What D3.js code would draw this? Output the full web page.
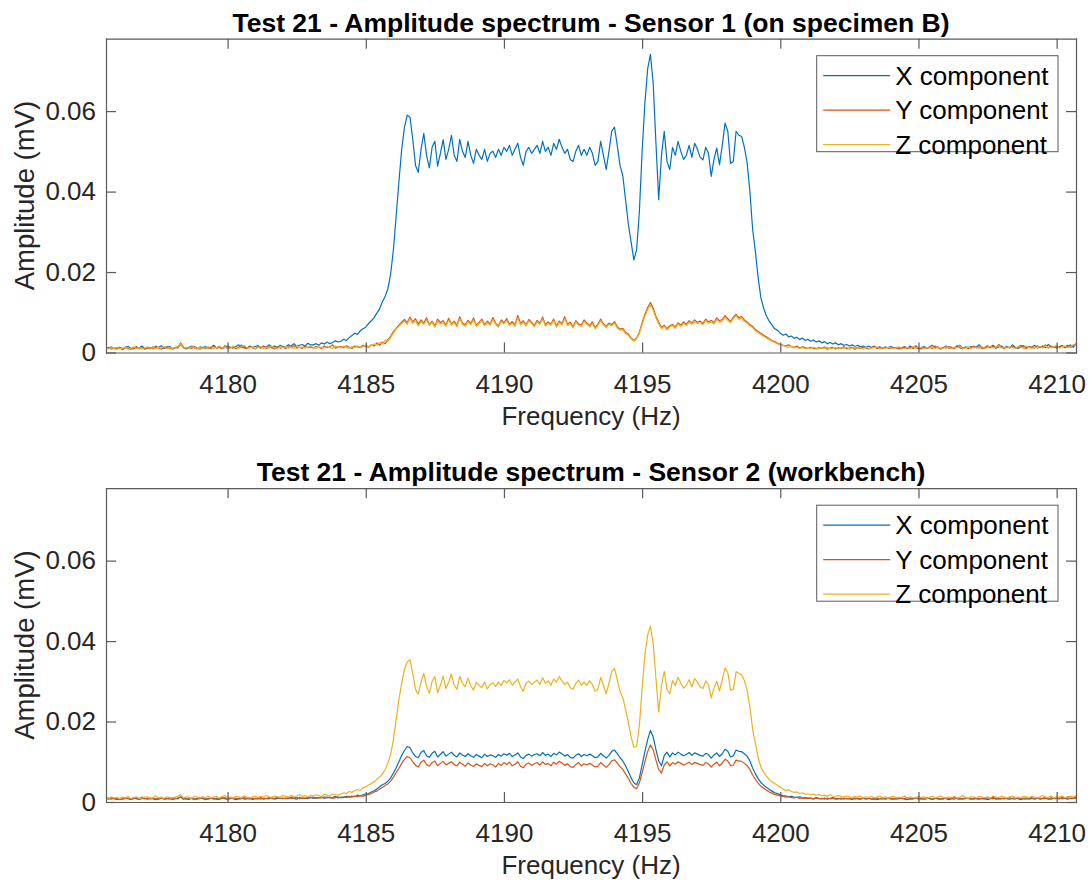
<!DOCTYPE html>
<html>
<head>
<meta charset="utf-8">
<script src="https://cdn.jsdelivr.net/npm/d3@7"></script>
<style>
  html, body { margin: 0; padding: 0; background: #fff; }
  svg { display: block; }
</style>
</head>
<body>
<svg id="fig" width="1090" height="882"></svg>
<script>
// Spectrum bins: first bin frequency and bin spacing (Hz)
const freqStart = 4175.6;
const freqStep = 0.1;

// Amplitudes in microvolts, one value per bin
const sensor1X_uV = [
  1.2, 1.0, 1.4, 0.9, 1.1,
  1.3, 0.8, 1.2, 1.5, 1.0, 0.9, 1.3, 1.1, 1.6, 1.0,
  1.2, 0.9, 1.4, 1.1, 1.3, 1.7, 1.0, 1.2, 1.5, 0.9,
  1.1, 1.4, 2.0, 1.2, 1.0, 1.3, 1.6, 1.1, 0.9, 1.4,
  1.2, 1.5, 1.0, 1.3, 1.8, 1.1, 1.4, 1.0, 1.2, 1.6,
  1.3, 1.1, 1.5, 1.9, 1.2, 1.4, 1.0, 1.6, 1.3, 1.5,
  1.7, 1.2, 1.5, 1.3, 1.9, 1.4, 1.6, 1.2, 1.8, 1.5,
  1.4, 1.9, 1.6, 2.2, 1.5, 1.8, 2.0, 1.6, 2.3, 1.9,
  1.9, 2.2, 1.8, 2.4, 2.1, 2.6, 2.2, 2.5, 2.9, 2.6,
  2.8, 3.3, 3.0, 3.7, 4.2, 4.8, 4.5, 5.4, 5.9, 6.3,
  7.2, 7.9, 8.6, 9.8, 10.8, 12.6, 13.9, 15.8, 19.5, 25.5,
  34.0, 42.5, 50.5, 56.0, 59.0, 58.5, 53.0, 46.5, 44.8, 50.5,
  54.5, 49.0, 45.9, 51.0, 52.5, 46.3, 49.5, 52.9, 48.0, 50.5,
  54.0, 49.0, 47.5, 53.0, 50.0, 48.5, 52.5, 49.0, 47.0, 50.5,
  49.0, 48.0, 50.5, 47.5, 49.5, 50.0, 48.5, 50.5, 49.0, 51.0,
  50.0, 51.5, 49.0, 50.5, 52.0, 48.5, 46.5, 50.0, 51.0, 49.5,
  50.5, 51.5, 49.5, 52.5, 50.0, 51.0, 49.0, 52.0, 50.5, 53.0,
  51.0, 49.5, 50.5, 48.0, 47.5, 50.0, 51.5, 49.0, 50.5, 49.0,
  51.0, 49.5, 46.5, 47.5, 52.5, 49.0, 45.5, 50.0, 55.0, 56.0,
  51.5, 46.5, 44.0, 38.0, 32.0, 27.5, 23.0, 25.5, 35.0, 50.0,
  62.0, 70.5, 74.1, 67.0, 52.0, 38.0, 49.0, 55.0, 47.5, 45.5,
  51.0, 49.0, 52.5, 50.0, 48.0, 49.0, 51.5, 48.5, 52.0, 50.5,
  48.5, 47.9, 51.0, 49.5, 43.8, 48.0, 50.8, 46.7, 51.5, 57.0,
  55.0, 47.0, 47.5, 55.0, 54.0, 53.7, 51.0, 47.1, 40.0, 30.5,
  25.0, 18.5, 13.5, 11.0, 9.0, 7.8, 6.8, 5.9, 5.5, 4.8,
  4.3, 4.6, 3.9, 4.1, 3.5, 3.8, 3.2, 3.6, 3.0, 3.3,
  2.8, 3.1, 2.6, 2.9, 2.4, 2.7, 2.2, 2.5, 2.1, 2.4,
  1.9, 2.2, 1.8, 2.0, 1.6, 1.9, 1.5, 1.8, 1.4, 1.6,
  1.3, 1.6, 1.2, 1.5, 1.1, 1.4, 1.0, 1.3, 1.2, 1.5,
  1.1, 1.3, 0.9, 1.2, 1.4, 1.0, 1.6, 1.1, 1.3, 0.9,
  1.2, 1.5, 1.0, 1.3, 1.8, 1.1, 1.4, 0.9, 1.2, 1.6,
  1.0, 1.3, 1.1, 1.7, 1.2, 0.9, 1.4, 1.1, 1.5, 1.2,
  1.4, 1.9, 1.2, 1.0, 1.5, 1.3, 1.8, 1.1, 1.4, 1.6,
  1.2, 1.5, 1.1, 1.9, 1.3, 1.0, 1.4, 1.7, 1.2, 1.5,
  1.3, 1.8, 1.1, 1.4, 1.6, 1.2, 2.0, 1.3, 1.5, 1.1,
  1.4, 1.7, 1.2, 1.5, 1.9, 1.3, 2.2
];

const sensor1Y_uV = [
  1.0, 1.3, 0.8, 1.1, 0.9,
  1.2, 0.7, 1.4, 1.0, 0.8, 1.1, 1.5, 0.9, 1.2, 0.8,
  1.0, 1.3, 0.9, 1.6, 1.1, 0.8, 1.2, 1.4, 1.0, 0.9,
  1.3, 1.1, 2.4, 1.4, 0.9, 1.2, 1.0, 1.5, 1.1, 0.8,
  1.2, 1.0, 1.4, 0.9, 1.6, 1.1, 1.3, 0.9, 1.7, 1.0,
  1.2, 1.4, 0.9, 1.3, 1.9, 1.1, 1.0, 1.5, 1.2, 0.9,
  1.3, 1.1, 1.6, 1.0, 1.4, 1.2, 0.9, 1.5, 1.1, 1.3,
  1.0, 1.4, 1.2, 1.7, 1.1, 1.3, 1.0, 1.6, 1.2, 1.4,
  1.1, 1.5, 1.3, 1.0, 1.6, 1.2, 1.4, 1.9, 1.1, 1.3,
  1.5, 1.2, 1.7, 1.3, 1.0, 1.6, 1.4, 1.2, 1.8, 1.5,
  1.3, 1.9, 1.6, 2.4, 1.8, 2.6, 2.2, 3.2, 4.0, 5.2,
  6.0, 6.8, 7.6, 8.2, 7.4, 8.8, 7.6, 8.4, 7.0, 8.1,
  7.3, 8.6, 7.0, 7.8, 6.6, 8.3, 7.4, 7.9, 6.8, 8.5,
  7.1, 7.8, 6.7, 8.9, 7.3, 6.9, 8.0, 7.2, 8.6, 6.8,
  7.5, 8.3, 6.9, 7.8, 7.1, 8.7, 7.3, 6.6, 8.1, 7.4,
  8.4, 7.0, 7.7, 6.8, 9.2, 7.2, 7.9, 6.9, 8.2, 7.5,
  6.7, 8.0, 7.3, 8.8, 6.9, 7.6, 7.1, 8.3, 6.6, 7.8,
  7.2, 8.9, 7.0, 7.5, 6.4, 7.9, 7.1, 6.8, 8.1, 7.3,
  6.7, 7.6, 6.2, 7.0, 8.3, 7.1, 6.5, 7.3, 6.9, 7.7,
  6.4, 5.8, 6.0, 5.0, 4.6, 3.6, 3.0, 3.6, 5.0, 7.4,
  9.5, 11.2, 12.4, 11.0, 9.0, 7.5, 6.2, 6.8, 5.9, 6.6,
  7.0, 6.3, 7.4, 6.8, 7.6, 7.0, 7.9, 7.3, 8.1, 7.5,
  7.8, 7.2, 8.3, 7.6, 8.0, 7.4, 8.6, 7.9, 8.2, 9.1,
  8.4, 7.7, 8.8, 9.5, 8.6, 9.0, 8.1, 7.6, 6.9, 6.5,
  5.7, 5.2, 4.8, 4.3, 3.9, 3.4, 3.0, 2.7, 2.3, 2.0,
  1.8, 1.6, 1.9, 1.4, 1.3, 1.6, 1.1, 1.4, 1.2, 1.0,
  1.3, 1.1, 0.9, 1.2, 1.0, 1.4, 0.8, 1.1, 1.3, 0.9,
  1.2, 1.0, 1.5, 0.9, 1.1, 1.3, 0.8, 1.2, 1.0, 1.4,
  1.1, 0.9, 1.3, 1.6, 1.0, 1.2, 0.9, 1.4, 1.1, 1.0,
  1.3, 1.0, 1.2, 0.9, 1.5, 1.1, 1.3, 1.0, 1.7, 1.2,
  0.9, 1.3, 1.1, 1.4, 1.0, 1.6, 1.2, 0.9, 1.3, 1.1,
  1.5, 1.2, 1.0, 1.4, 1.8, 1.1, 1.3, 1.0, 1.2, 1.6,
  1.1, 1.4, 1.0, 1.3, 1.7, 1.2, 1.5, 1.1, 2.0, 1.3,
  1.0, 1.4, 1.2, 1.6, 1.1, 1.3, 1.8, 1.2, 1.0, 1.5,
  1.3, 1.1, 1.7, 1.2, 1.4, 1.9, 1.1, 1.6, 1.3, 1.5,
  1.2, 1.6, 1.4, 1.8, 1.3, 1.7, 2.1
];

const sensor1Z_uV = [
  1.1, 0.9, 1.2, 1.0, 1.3,
  0.9, 1.1, 1.3, 0.8, 1.0, 1.4, 1.0, 1.2, 0.9, 1.1,
  1.4, 1.0, 1.2, 0.9, 1.3, 1.1, 1.5, 0.9, 1.2, 1.0,
  1.2, 1.5, 2.2, 1.1, 1.3, 1.0, 1.4, 1.2, 0.9, 1.3,
  1.0, 1.3, 1.1, 1.5, 1.0, 1.2, 1.6, 1.1, 1.3, 1.2,
  1.0, 1.6, 1.2, 1.0, 1.4, 1.8, 1.2, 1.1, 1.4, 1.0,
  1.2, 1.5, 1.0, 1.3, 1.1, 1.6, 1.2, 1.0, 1.4, 1.2,
  1.5, 1.1, 1.3, 1.0, 1.6, 1.2, 1.4, 1.1, 1.3, 1.7,
  1.2, 1.0, 1.4, 1.3, 1.1, 1.5, 1.2, 1.0, 1.6, 1.4,
  1.1, 1.6, 1.3, 1.0, 1.5, 1.2, 1.7, 1.3, 1.4, 1.9,
  1.5, 1.7, 2.1, 1.8, 2.5, 2.2, 3.0, 2.8, 3.7, 4.8,
  5.8, 6.5, 7.2, 7.8, 7.0, 8.4, 7.2, 7.9, 6.6, 7.6,
  7.0, 8.1, 6.7, 7.5, 6.3, 7.8, 7.1, 7.4, 6.5, 8.0,
  6.8, 7.4, 6.4, 8.4, 7.0, 6.5, 7.6, 6.9, 8.1, 6.5,
  7.1, 7.9, 6.6, 7.4, 6.8, 8.2, 7.0, 6.3, 7.7, 7.1,
  7.9, 6.7, 7.3, 6.5, 8.6, 6.9, 7.5, 6.6, 7.8, 7.2,
  6.4, 7.6, 7.0, 8.3, 6.6, 7.2, 6.8, 7.9, 6.3, 7.4,
  6.9, 8.4, 6.7, 7.1, 6.1, 7.5, 6.8, 6.5, 7.7, 7.0,
  6.4, 7.2, 5.9, 6.7, 7.9, 6.8, 6.2, 7.0, 6.6, 7.3,
  6.1, 5.5, 5.7, 4.7, 4.3, 3.4, 2.8, 3.4, 4.7, 7.0,
  9.0, 10.7, 11.8, 10.5, 8.6, 7.1, 5.9, 6.5, 5.6, 6.3,
  6.7, 6.0, 7.1, 6.5, 7.2, 6.7, 7.5, 7.0, 7.7, 7.2,
  7.4, 6.9, 7.9, 7.3, 7.6, 7.1, 8.2, 7.5, 7.8, 8.7,
  8.0, 7.4, 8.4, 9.1, 8.2, 8.6, 7.7, 7.3, 6.6, 6.2,
  5.4, 4.9, 4.5, 4.0, 3.6, 3.2, 2.8, 2.5, 2.1, 1.9,
  1.7, 1.5, 1.2, 1.6, 1.1, 1.3, 1.0, 1.2, 0.9, 1.1,
  1.0, 1.3, 1.1, 0.9, 1.2, 1.0, 1.3, 0.9, 1.1, 1.2,
  0.9, 1.2, 1.0, 1.3, 0.9, 1.1, 1.4, 1.0, 1.2, 0.9,
  1.3, 1.0, 1.1, 1.2, 1.4, 0.9, 1.2, 1.0, 1.3, 1.1,
  1.0, 1.2, 1.4, 1.1, 1.0, 1.3, 0.9, 1.5, 1.1, 1.2,
  1.3, 1.0, 1.2, 1.1, 1.5, 1.0, 1.3, 1.1, 1.0, 1.4,
  1.1, 1.0, 1.3, 1.2, 1.5, 1.0, 1.1, 1.4, 1.0, 1.3,
  1.2, 1.1, 1.5, 1.0, 1.3, 1.6, 1.1, 1.4, 1.7, 1.1,
  1.3, 1.1, 1.4, 1.2, 1.0, 1.5, 1.3, 1.1, 1.6, 1.2,
  1.0, 1.4, 1.2, 1.5, 1.1, 1.7, 1.3, 1.2, 1.4, 1.8,
  1.1, 1.4, 1.6, 1.2, 1.5, 1.9, 1.8
];

const sensor2X_uV = [
  0.9, 0.7, 1.0, 0.8, 0.6,
  0.9, 0.7, 1.1, 0.8, 0.6, 1.0, 0.8, 0.7, 1.2, 0.9,
  0.7, 1.0, 0.8, 0.6, 0.9, 1.1, 0.7, 0.8, 1.0, 0.6,
  0.9, 0.8, 1.3, 0.7, 0.9, 0.6, 1.0, 0.8, 0.7, 1.1,
  0.8, 0.6, 0.9, 1.0, 0.7, 0.9, 0.6, 1.2, 0.8, 0.7,
  1.0, 0.8, 0.6, 0.9, 1.1, 0.7, 0.8, 1.0, 0.6, 0.9,
  0.8, 1.1, 0.7, 0.9, 0.8, 1.2, 0.7, 0.9, 1.0, 0.8,
  1.0, 0.8, 1.2, 0.9, 0.7, 1.1, 0.9, 1.0, 0.8, 1.2,
  0.9, 1.1, 1.0, 1.3, 0.9, 1.2, 1.0, 1.1, 1.4, 1.0,
  1.2, 1.1, 1.4, 1.2, 1.5, 1.3, 1.7, 1.5, 1.8, 2.0,
  2.1, 2.5, 2.8, 3.2, 3.8, 4.3, 4.6, 5.2, 6.0, 7.2,
  8.5, 10.0, 11.6, 12.8, 13.8, 13.5, 12.2, 11.3, 11.0, 12.3,
  12.8, 11.5, 11.1, 12.1, 12.6, 11.2, 11.8, 12.5, 11.4, 11.9,
  12.4, 11.6, 11.2, 12.2, 11.7, 11.3, 12.0, 11.5, 11.1, 11.8,
  11.4, 11.0, 11.9, 11.3, 11.7, 11.5, 11.1, 11.8, 11.4, 12.0,
  11.6, 12.1, 11.3, 11.7, 12.2, 11.2, 10.8, 11.6, 11.9, 11.4,
  11.8, 12.0, 11.5, 12.3, 11.6, 11.9, 11.3, 12.1, 11.7, 12.4,
  12.0, 11.4, 11.8, 11.1, 10.9, 11.6, 12.0, 11.3, 11.8, 11.5,
  11.9, 11.5, 11.0, 11.2, 12.1, 11.5, 10.9, 11.6, 12.6, 12.9,
  12.0, 11.0, 10.2, 9.0, 7.6, 6.0, 4.8, 4.3, 6.0, 9.2,
  12.5, 15.5, 17.8, 16.2, 13.0, 10.2, 9.0, 11.5, 12.4, 11.2,
  12.2, 11.7, 12.4, 11.9, 11.5, 11.8, 12.3, 11.6, 12.2, 11.9,
  11.6, 11.4, 12.1, 11.8, 10.9, 11.7, 12.2, 11.3, 12.0, 13.1,
  12.6, 11.2, 11.5, 12.9, 12.6, 12.5, 12.0, 11.4, 10.2, 8.4,
  7.0, 5.8, 4.8, 4.2, 3.6, 3.1, 2.7, 2.3, 2.1, 1.8,
  1.6, 1.5, 1.3, 1.4, 1.2, 1.1, 1.3, 1.0, 1.1, 0.9,
  1.0, 0.8, 1.1, 0.9, 0.8, 1.0, 0.7, 0.9, 1.1, 0.8,
  0.9, 0.7, 1.0, 0.8, 0.9, 0.6, 1.0, 0.8, 0.7, 0.9,
  0.8, 1.0, 0.7, 0.9, 0.6, 0.8, 1.1, 0.7, 0.9, 0.8,
  0.7, 0.9, 0.8, 1.0, 0.7, 0.6, 0.9, 0.8, 1.1, 0.7,
  0.9, 0.7, 0.8, 1.0, 0.6, 0.9, 0.8, 0.7, 1.0, 0.8,
  0.6, 0.9, 1.1, 0.8, 0.7, 0.9, 0.8, 1.0, 0.7, 0.9,
  0.8, 0.7, 1.0, 0.9, 0.6, 0.8, 1.2, 0.7, 0.9, 0.8,
  1.0, 0.8, 0.7, 0.9, 1.1, 0.8, 0.6, 0.9, 1.0, 0.7,
  0.9, 0.8, 1.0, 0.7, 0.9, 1.2, 0.8, 0.7, 1.0, 0.9,
  0.8, 1.1, 0.9, 0.7, 1.0, 0.9, 1.2
];

const sensor2Y_uV = [
  0.8, 1.0, 0.7, 0.9, 0.8,
  0.6, 0.9, 0.8, 1.0, 0.7, 0.8, 1.1, 0.6, 0.9, 0.8,
  1.0, 0.7, 0.9, 0.8, 0.6, 1.0, 0.8, 0.9, 0.7, 1.1,
  0.8, 1.0, 1.2, 0.9, 0.7, 1.0, 0.8, 0.6, 0.9, 0.8,
  1.1, 0.8, 0.7, 0.9, 1.0, 0.6, 0.8, 0.9, 1.1, 0.7,
  0.8, 1.0, 0.9, 0.7, 0.8, 1.1, 0.9, 0.7, 1.0, 0.8,
  0.9, 0.7, 1.0, 0.8, 1.1, 0.8, 0.9, 1.2, 0.8, 1.0,
  0.8, 1.1, 0.9, 1.0, 1.2, 0.8, 1.0, 0.9, 1.1, 1.0,
  1.2, 0.9, 1.1, 1.0, 1.3, 1.0, 1.2, 0.9, 1.1, 1.3,
  1.0, 1.3, 1.1, 1.4, 1.2, 1.5, 1.3, 1.6, 1.4, 1.7,
  1.9, 2.1, 2.5, 2.7, 3.2, 3.6, 4.1, 4.5, 5.2, 6.2,
  7.3, 8.4, 9.6, 10.6, 11.3, 11.0, 10.0, 9.1, 8.7, 9.9,
  10.4, 9.3, 8.9, 9.8, 10.2, 9.0, 9.6, 10.1, 9.2, 9.6,
  10.0, 9.3, 9.0, 9.9, 9.4, 8.9, 9.7, 9.2, 8.8, 9.5,
  9.1, 8.8, 9.6, 9.0, 9.5, 9.2, 8.7, 9.6, 9.1, 9.8,
  9.3, 9.9, 9.0, 9.4, 10.0, 8.9, 8.5, 9.4, 9.7, 9.1,
  9.5, 9.8, 9.2, 10.0, 9.3, 9.6, 9.0, 9.9, 9.4, 10.1,
  9.7, 9.1, 9.5, 8.8, 8.6, 9.3, 9.8, 9.0, 9.5, 9.2,
  9.6, 9.2, 8.7, 8.9, 9.8, 9.2, 8.6, 9.3, 10.2, 10.5,
  9.7, 8.8, 8.1, 7.0, 5.9, 4.6, 3.7, 3.3, 4.7, 7.3,
  10.0, 12.5, 14.2, 13.0, 10.4, 8.1, 7.2, 9.2, 10.0, 9.0,
  9.8, 9.4, 10.0, 9.6, 9.2, 9.5, 9.9, 9.3, 9.8, 9.6,
  9.3, 9.1, 9.8, 9.5, 8.7, 9.4, 9.9, 9.0, 9.7, 10.6,
  10.2, 9.0, 9.2, 10.4, 10.2, 10.1, 9.6, 9.1, 8.1, 6.7,
  5.6, 4.7, 3.9, 3.4, 2.9, 2.5, 2.2, 1.9, 1.7, 1.5,
  1.4, 1.2, 1.3, 1.1, 1.0, 1.2, 0.9, 1.0, 0.8, 1.0,
  0.9, 0.7, 1.0, 0.8, 0.9, 0.7, 1.0, 0.8, 0.9, 0.7,
  0.8, 1.0, 0.7, 0.9, 0.8, 1.1, 0.7, 0.9, 0.8, 1.0,
  0.7, 0.9, 0.8, 0.6, 1.0, 0.8, 0.7, 0.9, 1.1, 0.8,
  0.9, 0.7, 1.0, 0.8, 0.9, 1.1, 0.7, 0.8, 0.9, 1.0,
  0.7, 0.9, 1.1, 0.8, 0.7, 1.0, 0.9, 0.8, 0.7, 1.1,
  0.9, 0.8, 0.7, 1.0, 0.9, 0.7, 1.1, 0.8, 0.9, 0.7,
  1.0, 0.9, 0.8, 0.7, 1.1, 0.9, 0.8, 1.0, 0.7, 0.9,
  0.8, 0.9, 1.1, 0.8, 0.7, 1.0, 0.9, 0.8, 0.7, 1.0,
  1.1, 0.7, 0.9, 1.0, 0.8, 0.9, 0.7, 1.1, 0.8, 0.9,
  1.0, 0.8, 0.9, 1.2, 0.8, 1.0, 0.9
];

const sensor2Z_uV = [
  1.1, 0.9, 1.3, 1.0, 1.2,
  0.8, 1.2, 1.0, 1.4, 0.9, 1.1, 1.3, 0.9, 1.0, 1.2,
  1.3, 0.9, 1.1, 1.5, 1.0, 1.2, 0.9, 1.3, 1.1, 1.0,
  1.2, 1.4, 1.8, 1.0, 1.3, 1.1, 0.9, 1.4, 1.2, 1.0,
  1.3, 1.1, 1.5, 1.0, 1.2, 1.4, 1.0, 1.3, 1.6, 1.1,
  1.2, 1.0, 1.4, 1.3, 1.1, 1.5, 1.2, 1.0, 1.3, 1.4,
  1.1, 1.4, 1.2, 1.6, 1.3, 1.1, 1.5, 1.3, 1.2, 1.6,
  1.4, 1.2, 1.7, 1.3, 1.5, 1.8, 1.4, 1.6, 1.3, 1.7,
  1.5, 1.8, 1.6, 1.4, 1.9, 1.7, 1.5, 2.0, 1.8, 1.7,
  2.0, 2.3, 2.1, 2.6, 2.4, 2.8, 3.1, 2.9, 3.5, 3.8,
  4.2, 4.6, 5.0, 5.6, 6.2, 7.0, 8.0, 9.6, 11.8, 15.5,
  20.5, 25.5, 29.5, 33.0, 34.8, 35.4, 32.0, 28.0, 26.8, 29.8,
  32.0, 28.8, 27.0, 30.0, 31.2, 27.2, 29.0, 31.3, 28.2, 29.8,
  31.8, 29.0, 28.0, 31.2, 29.5, 28.6, 30.8, 28.9, 27.8, 29.8,
  29.0, 28.4, 29.8, 28.1, 29.2, 29.6, 28.7, 29.8, 29.0, 30.2,
  29.6, 30.4, 29.0, 29.8, 30.6, 28.7, 27.5, 29.5, 30.1, 29.2,
  29.8, 30.3, 29.2, 30.9, 29.5, 30.1, 29.0, 30.6, 29.8, 31.2,
  30.1, 29.2, 29.8, 28.4, 28.0, 29.5, 30.3, 29.0, 29.8, 29.0,
  30.1, 29.2, 27.5, 28.0, 31.0, 29.0, 26.9, 29.5, 32.4, 33.2,
  30.4, 27.5, 26.0, 23.0, 19.8, 16.3, 13.6, 13.8, 18.9, 28.3,
  36.6, 41.5, 43.7, 39.5, 30.7, 22.4, 28.9, 32.5, 28.0, 26.9,
  30.2, 29.0, 31.0, 29.5, 28.3, 29.0, 30.4, 28.6, 30.7, 29.8,
  28.6, 28.2, 30.1, 29.2, 25.9, 28.3, 30.0, 27.6, 30.4, 33.3,
  32.2, 27.8, 28.0, 32.4, 32.0, 31.6, 30.2, 27.8, 23.6, 18.0,
  14.5, 11.0, 8.6, 7.4, 6.4, 5.6, 5.0, 4.6, 4.1, 3.7,
  3.2, 2.9, 3.0, 2.6, 2.4, 2.5, 2.1, 2.3, 1.9, 2.0,
  1.8, 2.0, 1.6, 1.9, 1.5, 1.7, 1.4, 1.8, 1.5, 1.3,
  1.6, 1.4, 1.2, 1.5, 1.3, 1.1, 1.4, 1.2, 1.5, 1.0,
  1.3, 1.1, 1.4, 1.0, 1.2, 1.5, 1.1, 1.3, 0.9, 1.2,
  1.4, 1.0, 1.2, 1.1, 1.5, 0.9, 1.3, 1.1, 1.0, 1.4,
  1.1, 1.3, 0.9, 1.2, 1.4, 1.0, 1.2, 1.5, 1.1, 1.0,
  1.3, 1.1, 1.4, 1.0, 1.2, 1.6, 1.1, 0.9, 1.3, 1.2,
  1.0, 1.4, 1.2, 1.1, 1.3, 1.0, 1.5, 1.2, 1.1, 1.4,
  1.2, 1.0, 1.3, 1.5, 1.1, 1.2, 1.0, 1.4, 1.3, 1.1,
  1.4, 1.2, 1.0, 1.3, 1.6, 1.1, 1.2, 1.5, 1.0, 1.3,
  1.2, 1.5, 1.1, 1.3, 1.4, 1.2, 1.6
];

const seriesNames = ["X component", "Y component", "Z component"];
const seriesColors = ["#0072BD", "#D95319", "#EDB120"];
const panelTitles = [
  "Test 21 - Amplitude spectrum - Sensor 1 (on specimen B)",
  "Test 21 - Amplitude spectrum - Sensor 2 (workbench)"
];
const xTickValues = [4180, 4185, 4190, 4195, 4200, 4205, 4210];
const yTickValues = [0, 0.02, 0.04, 0.06];
const yMax = 0.078;
const xLabel = "Frequency (Hz)";
const yLabel = "Amplitude (mV)";

// ---- figure ----
const FONT = "'Liberation Sans', Arial, Helvetica, sans-serif";
const svg = d3.select("#fig");
const freqs = sensor1X_uV.map((_, i) => +(freqStart + i * freqStep).toFixed(1));
const toMilliVolt = arr => arr.map((v, i) => ({ f: freqs[i], a: v / 1000 }));

const panels = [
  { title: panelTitles[0], top: 38.7, series: [sensor1X_uV, sensor1Y_uV, sensor1Z_uV] },
  { title: panelTitles[1], top: 488.2, series: [sensor2X_uV, sensor2Y_uV, sensor2Z_uV] }
];

const plotLeft = 106, plotRight = 1076, plotHeight = 313.8;
const axisColor = "#5a5a5a", textColor = "#262626";

const x = d3.scaleLinear().domain(d3.extent(freqs)).range([plotLeft, plotRight]);

panels.forEach((p, pi) => {
  const y = d3.scaleLinear().domain([0, yMax]).range([p.top + plotHeight, p.top]);
  const g = svg.append("g");
  const clipId = "clip" + pi;
  g.append("clipPath").attr("id", clipId)
    .append("rect").attr("x", plotLeft).attr("y", p.top)
    .attr("width", plotRight - plotLeft).attr("height", plotHeight);

  // spectrum traces
  const line = d3.line().x(d => x(d.f)).y(d => y(d.a));
  const traces = g.append("g").attr("clip-path", `url(#${clipId})`);
  p.series.forEach((s, si) => {
    traces.append("path")
      .datum(toMilliVolt(s))
      .attr("fill", "none")
      .attr("stroke", seriesColors[si])
      .attr("stroke-width", 1.2)
      .attr("stroke-linejoin", "round")
      .attr("d", line);
  });

  // axes with inward ticks on all four sides
  const styleAxis = sel => {
    sel.select(".domain").attr("stroke", axisColor).attr("stroke-width", 1.2);
    sel.selectAll(".tick line").attr("stroke", axisColor).attr("stroke-width", 1.2);
    sel.selectAll("text").attr("fill", textColor).attr("font-family", FONT).attr("font-size", 26);
  };
  g.append("g").attr("transform", `translate(0,${p.top + plotHeight})`)
    .call(d3.axisBottom(x).tickValues(xTickValues).tickSizeInner(-10).tickSizeOuter(0).tickPadding(22).tickFormat(d3.format("d")))
    .call(styleAxis);
  g.append("g").attr("transform", `translate(0,${p.top})`)
    .call(d3.axisTop(x).tickValues(xTickValues).tickSizeInner(-10).tickSizeOuter(0).tickFormat(""))
    .call(styleAxis);
  g.append("g").attr("transform", `translate(${plotLeft},0)`)
    .call(d3.axisLeft(y).tickValues(yTickValues).tickSizeInner(-10).tickSizeOuter(0).tickPadding(10)
      .tickFormat(d => d === 0 ? "0" : d3.format(".2f")(d)))
    .call(styleAxis);
  g.append("g").attr("transform", `translate(${plotRight},0)`)
    .call(d3.axisRight(y).tickValues(yTickValues).tickSizeInner(-10).tickSizeOuter(0).tickFormat(""))
    .call(styleAxis);
  g.selectAll(".domain").attr("stroke-linecap", "square");

  // title and axis labels
  g.append("text")
    .attr("x", (plotLeft + plotRight) / 2).attr("y", p.top - 7)
    .attr("text-anchor", "middle").attr("font-family", FONT)
    .attr("font-weight", "bold").attr("font-size", 26.5).attr("fill", "#000")
    .text(p.title);
  g.append("text")
    .attr("x", (plotLeft + plotRight) / 2).attr("y", p.top + plotHeight + 72)
    .attr("text-anchor", "middle").attr("font-family", FONT)
    .attr("font-size", 26).attr("fill", textColor)
    .text(xLabel);
  g.append("text")
    .attr("transform", `translate(34,${p.top + plotHeight / 2}) rotate(-90)`)
    .attr("text-anchor", "middle").attr("font-family", FONT)
    .attr("font-size", 27.5).attr("fill", textColor)
    .text(yLabel);

  // legend
  const lg = g.append("g").attr("transform", `translate(816.7,${p.top + 17})`);
  lg.append("rect").attr("width", 241.3).attr("height", 96)
    .attr("fill", "#fff").attr("stroke", axisColor).attr("stroke-width", 1);
  seriesNames.forEach((name, si) => {
    const cy = 20 + si * 34.5;
    lg.append("line").attr("x1", 6.5).attr("x2", 73.5).attr("y1", cy).attr("y2", cy)
      .attr("stroke", seriesColors[si]).attr("stroke-width", 1.2);
    lg.append("text").attr("x", 78.5).attr("y", cy + 9.3)
      .attr("font-family", FONT).attr("font-size", 26).attr("fill", "#000")
      .text(name);
  });
});
</script>
</body>
</html>
